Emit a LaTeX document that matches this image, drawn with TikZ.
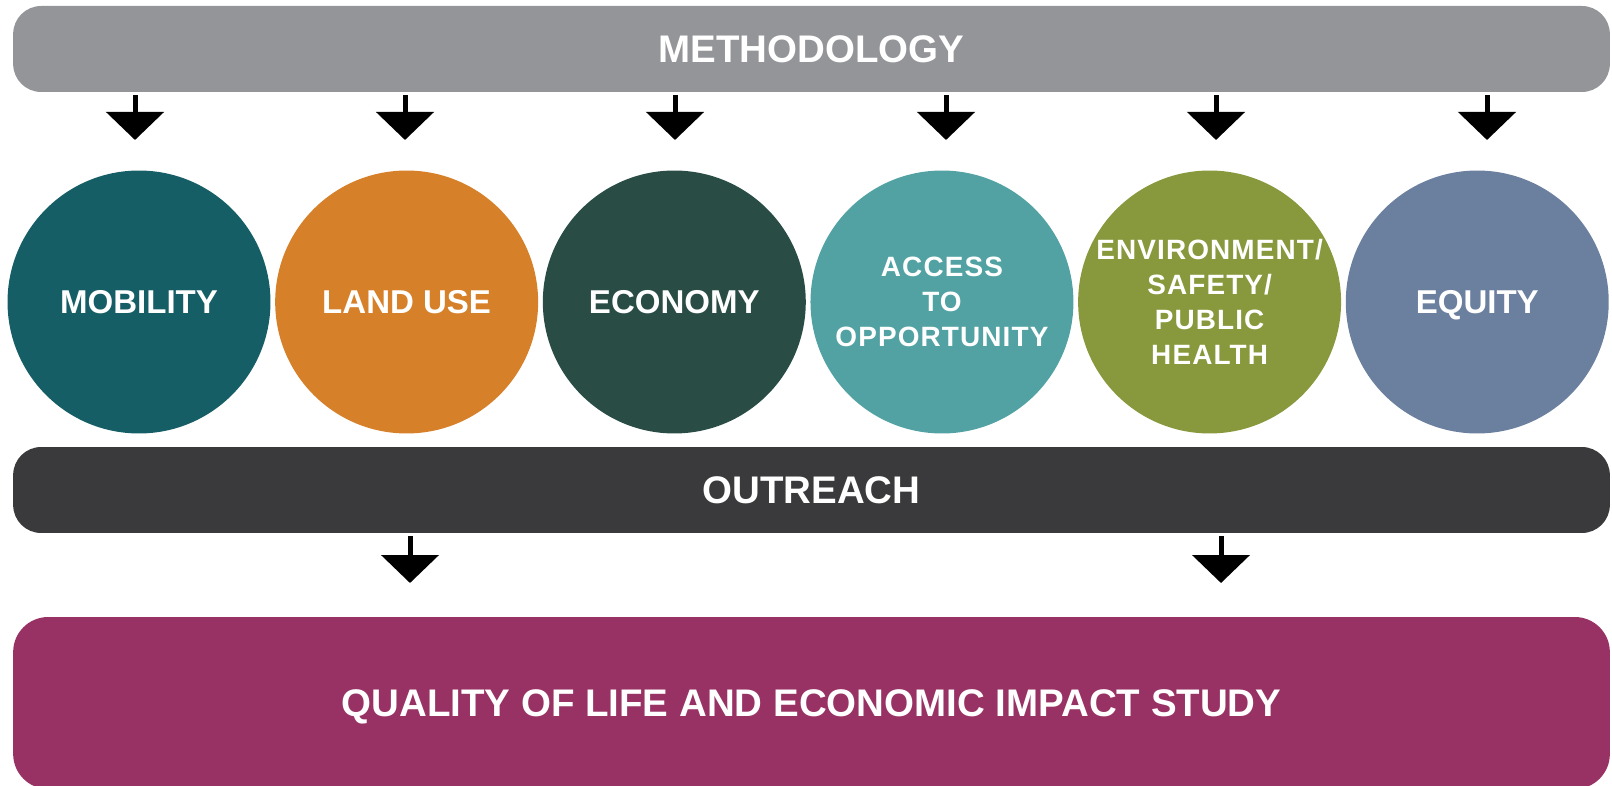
\documentclass[tikz,border=0pt]{standalone}
\usepackage{fontspec}
\setmainfont{Liberation Sans}
\usetikzlibrary{positioning, arrows.meta}

\definecolor{methgray}{HTML}{939598}
\definecolor{mobilityteal}{HTML}{155E66}
\definecolor{landorange}{HTML}{D6802A}
\definecolor{economygreen}{HTML}{294C45}
\definecolor{accessteal}{HTML}{52A2A3}
\definecolor{envolive}{HTML}{87993C}
\definecolor{equityblue}{HTML}{6B7F9E}
\definecolor{outreachgray}{HTML}{3A3A3C}
\definecolor{qualityplum}{HTML}{993264}

\begin{document}
\begin{tikzpicture}[
    x=0.02cm, y=-0.02cm,
    bar/.style={rectangle, rounded corners=0.56cm, minimum width=31.94cm,
        minimum height=1.72cm, inner sep=0pt, text=white,
        font=\bfseries\fontsize{21.9}{26}\selectfont},
    area/.style={circle, minimum size=5.26cm, inner sep=0pt, text=white,
        align=center, text depth=-0.16cm,
        font=\bfseries\fontsize{18.8}{22}\selectfont},
    smalltext/.style={font=\bfseries\fontsize{15.9}{19.9}\selectfont\addfontfeature{LetterSpace=4}},
    blockarrow/.style={draw, line width=0.1cm, shorten <=0.06cm,
        -{Triangle[width=1.14cm, length=0.56cm]}},
    node distance=0.08cm
]
\useasboundingbox (0,0) rectangle (1612,786);

\node (Methodology) [bar, fill=methgray, text depth=-0.12cm] at (811.5,49) {METHODOLOGY};

\node (Mobility) [area, fill=mobilityteal] at (139,302) {MOBILITY};
\node (LandUse) [area, fill=landorange, right=of Mobility] {LAND USE};
\node (Economy) [area, fill=economygreen, right=of LandUse] {ECONOMY};
\node (Access) [area, fill=accessteal, right=of Economy, smalltext]
    {ACCESS\\TO\\OPPORTUNITY};
\node (Environment) [area, fill=envolive, right=of Access, smalltext]
    {ENVIRONMENT/\\SAFETY/\\PUBLIC\\HEALTH};
\node (Equity) [area, fill=equityblue, right=of Environment] {EQUITY};

\node (Outreach) [bar, fill=outreachgray] at (811.5,490) {OUTREACH};
\node (Quality) [bar, fill=qualityplum, minimum height=3.44cm,
    rounded corners=0.7cm, text depth=-0.2cm] at (811.5,703)
    {QUALITY OF LIFE AND ECONOMIC IMPACT STUDY};

% arrows from methodology down to the circles
\foreach \x [count=\i] in {135,405,675,946,1216,1487} {
    \coordinate (MethTip\i) at (\x,140);
    \draw[blockarrow] (Methodology.south -| MethTip\i) -- (MethTip\i);
}

% arrows from outreach down to the study
\coordinate (OutTip1) at (410,583);
\coordinate (OutTip2) at (1221,583);
\draw[blockarrow] (Outreach.south -| OutTip1) -- (OutTip1);
\draw[blockarrow] (Outreach.south -| OutTip2) -- (OutTip2);

\end{tikzpicture}
\end{document}
